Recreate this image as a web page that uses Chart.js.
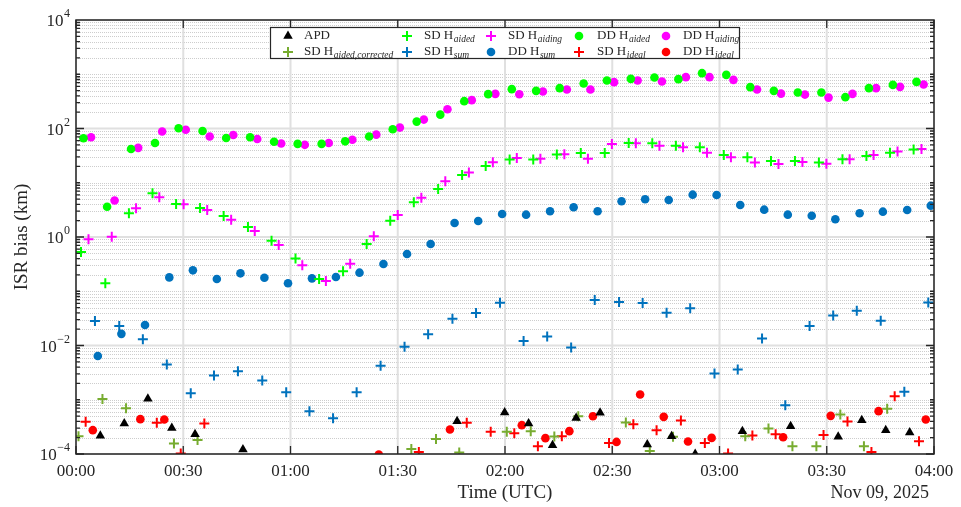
<!DOCTYPE html>
<html><head><meta charset="utf-8">
<script src="https://cdn.jsdelivr.net/npm/chart.js@4.4.1/dist/chart.umd.min.js"></script>
<style>html,body{margin:0;padding:0;background:#fff;}#wrap{width:961px;height:507px;}</style>
</head><body><div id="wrap"><canvas id="c" width="961" height="507"></canvas></div>
<script>
// ---- data (x = minutes after 00:00 UTC, y = ISR bias in km) ----
const apdT = [6.8, 13.5, 20.1, 26.8, 33.3, 46.7, 106.6, 119.9, 126.6, 133.3, 139.9, 146.6, 159.8, 166.6, 173.2, 186.4, 199.9, 213.2, 219.8, 226.5, 233.2];
const apdV = [2.16e-4, 3.65e-4, 1.04e-3, 3.03e-4, 2.32e-4, 1.21e-4, 4.03e-4, 5.83e-4, 3.65e-4, 1.45e-4, 4.63e-4, 5.73e-4, 1.5e-4, 2.13e-4, 1.0e-4, 2.64e-4, 3.26e-4, 2.07e-4, 4.2e-4, 2.75e-4, 2.49e-4];

const sdCorrT = [0.7, 7.4, 14.0, 27.4, 34.0, 93.8, 100.7, 107.2, 120.5, 127.2, 133.8, 140.5, 153.8, 160.5, 167.0, 187.2, 193.7, 200.4, 207.1, 213.8, 220.4, 226.9];
const sdCorrV = [2.13e-4, 1.03e-3, 7.0e-4, 1.56e-4, 1.82e-4, 1.23e-4, 1.9e-4, 1.07e-4, 2.56e-4, 2.64e-4, 2.1e-4, 4.98e-4, 3.81e-4, 1.13e-4, 2.07e-4, 2.13e-4, 2.95e-4, 1.39e-4, 1.39e-4, 5.36e-4, 1.39e-4, 6.8e-4];

const sdAidedT = [1.4, 8.2, 14.8, 21.4, 28.0, 34.7, 41.3, 48.1, 54.7, 61.4, 68.0, 74.7, 81.3, 87.9, 94.5, 101.3, 108.0, 114.6, 121.3, 127.9, 134.5, 141.2, 147.9, 154.6, 161.2, 167.8, 174.5, 181.2, 187.8, 194.4, 201.1, 207.8, 214.4, 221.1, 227.7, 234.3];
const sdAidedV = [0.53, 0.14, 2.74, 6.4, 4.06, 3.43, 2.44, 1.53, 0.855, 0.40, 0.168, 0.233, 0.74, 2.0, 4.37, 7.7, 13.9, 20.4, 26.7, 26.7, 33, 35.5, 35.5, 54, 53.5, 48, 45, 32.6, 29.5, 25.2, 25.2, 23.5, 27.1, 31.2, 35.9, 40.8];

const sdSumT = [5.3, 12.1, 18.7, 25.4, 32.1, 38.6, 45.3, 52.1, 58.8, 65.3, 71.9, 78.5, 85.2, 91.9, 98.5, 105.3, 111.9, 118.6, 125.2, 131.8, 138.5, 145.1, 151.9, 158.5, 165.2, 171.8, 178.6, 185.1, 191.9, 198.4, 205.2, 211.8, 218.4, 225.1, 231.7, 238.4];
const sdSumV = [0.0282, 0.0228, 0.0131, 0.00448, 0.00132, 0.00281, 0.00337, 0.00227, 0.00138, 0.000616, 0.000458, 0.00138, 0.00422, 0.00946, 0.0162, 0.0311, 0.0396, 0.0614, 0.0121, 0.0147, 0.00922, 0.0689, 0.0632, 0.0606, 0.0401, 0.0484, 0.00306, 0.00363, 0.0135, 0.000795, 0.0228, 0.0359, 0.0437, 0.0286, 0.0014, 0.0623];

const sdAidingT = [3.5, 10.0, 16.8, 23.3, 30.1, 36.7, 43.4, 50.0, 56.7, 63.3, 69.9, 76.7, 83.3, 90.0, 96.6, 103.3, 109.9, 116.6, 123.3, 129.9, 136.6, 143.2, 149.9, 156.6, 163.2, 169.8, 176.5, 183.2, 189.9, 196.5, 203.2, 209.9, 216.4, 223.1, 229.8, 236.5];
const sdAidingV = [0.91, 1.01, 3.4, 5.4, 4.0, 3.15, 2.08, 1.29, 0.71, 0.30, 0.154, 0.32, 1.03, 2.55, 5.3, 10.7, 15.4, 23.9, 28.7, 27.8, 33.6, 27.8, 52, 53.5, 48.3, 45.2, 35.9, 29.5, 23.5, 22.2, 24.2, 22.5, 27.1, 32.6, 37.5, 42];

const ddSumT = [6.1, 12.7, 19.3, 26.1, 32.7, 39.4, 46.0, 52.7, 59.3, 66.0, 72.7, 79.3, 86.0, 92.6, 99.2, 105.9, 112.5, 119.2, 125.9, 132.6, 139.2, 145.9, 152.6, 159.2, 165.8, 172.5, 179.2, 185.8, 192.5, 199.1, 205.8, 212.4, 219.2, 225.7, 232.5, 239.1];
const ddSumV = [0.0064, 0.0164, 0.0238, 0.18, 0.243, 0.168, 0.214, 0.177, 0.14, 0.173, 0.183, 0.22, 0.318, 0.486, 0.743, 1.81, 1.97, 2.66, 2.58, 2.98, 3.53, 2.98, 4.56, 4.96, 4.81, 6.03, 5.96, 3.89, 3.19, 2.58, 2.47, 2.12, 2.74, 2.93, 3.15, 3.78];

const ddAidedT = [2.1, 8.7, 15.4, 22.1, 28.7, 35.4, 42.0, 48.7, 55.4, 62.0, 68.7, 75.3, 82.0, 88.6, 95.3, 101.9, 108.6, 115.3, 121.9, 128.7, 135.3, 142.0, 148.5, 155.2, 161.8, 168.5, 175.1, 181.9, 188.6, 195.2, 201.9, 208.5, 215.2, 221.8, 228.5, 235.1];
const ddAidedV = [66, 3.6, 42, 54, 101, 90, 67, 69, 57, 52, 52, 58, 71, 97, 134, 180, 319, 430, 531, 494, 554, 674, 765, 823, 869, 813, 1047, 975, 578, 494, 460, 460, 378, 554, 637, 724];

const sdIdealT = [2.7, 22.6, 29.3, 35.9, 95.9, 109.3, 116.0, 122.6, 129.2, 135.9, 149.1, 155.9, 162.4, 169.2, 175.9, 182.4, 189.2, 195.7, 209.1, 215.8, 222.5, 229.0, 235.8];
const sdIdealV = [3.91e-4, 3.75e-4, 1.02e-4, 3.65e-4, 1.09e-4, 3.75e-4, 2.56e-4, 2.42e-4, 1.39e-4, 2.13e-4, 1.6e-4, 3.55e-4, 2.75e-4, 4.15e-4, 1.6e-4, 1.02e-4, 2.19e-4, 2.32e-4, 2.25e-4, 3.98e-4, 1.09e-4, 1.16e-3, 1.72e-4];

const ddAidingT = [4.2, 10.8, 17.4, 24.1, 30.7, 37.4, 44.0, 50.7, 57.4, 64.0, 70.7, 77.3, 84.0, 90.6, 97.3, 103.9, 110.7, 117.3, 124.0, 130.6, 137.3, 143.9, 150.5, 157.1, 163.9, 170.6, 177.2, 183.9, 190.5, 197.2, 203.9, 210.5, 217.2, 223.8, 230.5, 237.1];
const ddAidingV = [69, 4.7, 44, 88, 95, 71, 76, 64, 53, 50, 54, 62, 77, 104, 146, 227, 333, 435, 429, 480, 522, 522, 715, 765, 733, 884, 884, 788, 522, 440, 422, 371, 435, 554, 586, 646];

const ddIdealT = [4.7, 18.0, 24.7, 84.7, 104.6, 124.7, 131.3, 138.0, 144.6, 151.2, 157.8, 164.4, 171.2, 177.8, 197.8, 211.1, 224.5, 237.7];
const ddIdealV = [2.75e-4, 4.39e-4, 4.33e-4, 9.8e-5, 2.83e-4, 3.4e-4, 1.96e-4, 2.64e-4, 4.98e-4, 1.67e-4, 1.25e-3, 4.84e-4, 1.7e-4, 1.98e-4, 2.04e-4, 5.05e-4, 6.16e-4, 4.33e-4];

const xTickMinutes = [0, 30, 60, 90, 120, 150, 180, 210, 240];
const xTickLabels = ['00:00', '00:30', '01:00', '01:30', '02:00', '02:30', '03:00', '03:30', '04:00'];
const yTickExps = [-4, -2, 0, 2, 4];
const xTitle = 'Time (UTC)';
const yTitle = 'ISR bias (km)';
const dateLabel = 'Nov 09, 2025';

// legend order (column-major, 5 columns x 2 rows)
const series = [
  {base: 'APD', sub: '', t: apdT, v: apdV, style: 'triangle', color: '#000000'},
  {base: 'SD H', sub: 'aided,corrected', t: sdCorrT, v: sdCorrV, style: 'cross', color: '#77ac30'},
  {base: 'SD H', sub: 'aided', t: sdAidedT, v: sdAidedV, style: 'cross', color: '#00ff00'},
  {base: 'SD H', sub: 'sum', t: sdSumT, v: sdSumV, style: 'cross', color: '#0072bd'},
  {base: 'SD H', sub: 'aiding', t: sdAidingT, v: sdAidingV, style: 'cross', color: '#ff00ff'},
  {base: 'DD H', sub: 'sum', t: ddSumT, v: ddSumV, style: 'circle', color: '#0072bd'},
  {base: 'DD H', sub: 'aided', t: ddAidedT, v: ddAidedV, style: 'circle', color: '#00ff00'},
  {base: 'SD H', sub: 'ideal', t: sdIdealT, v: sdIdealV, style: 'cross', color: '#ff0000'},
  {base: 'DD H', sub: 'aiding', t: ddAidingT, v: ddAidingV, style: 'circle', color: '#ff00ff'},
  {base: 'DD H', sub: 'ideal', t: ddIdealT, v: ddIdealV, style: 'circle', color: '#ff0000'}
];

const AX = '#262626';
const SERIF = '"Liberation Serif", "Times New Roman", serif';

function styleOpts(s) {
  if (s.style === 'cross') return {pointStyle: 'cross', pointRadius: 5, pointBorderWidth: 2, pointBorderColor: s.color, pointBackgroundColor: s.color};
  if (s.style === 'triangle') return {pointStyle: 'triangle', pointRadius: 5.5, pointBorderWidth: 0, pointBorderColor: s.color, pointBackgroundColor: s.color};
  return {pointStyle: 'circle', pointRadius: 4.3, pointBorderWidth: 0, pointBorderColor: s.color, pointBackgroundColor: s.color};
}

const datasets = series.map(s => Object.assign({
  label: s.base + s.sub,
  data: s.t.map((x, i) => ({x: x, y: s.v[i]})),
  showLine: false
}, styleOpts(s)));

function drawMarker(ctx, style, color, x, y) {
  ctx.save();
  ctx.fillStyle = color; ctx.strokeStyle = color;
  if (style === 'cross') {
    ctx.lineWidth = 2; ctx.beginPath();
    ctx.moveTo(x - 5, y); ctx.lineTo(x + 5, y); ctx.moveTo(x, y - 5); ctx.lineTo(x, y + 5); ctx.stroke();
  } else if (style === 'triangle') {
    const r = 5.5; ctx.beginPath();
    ctx.moveTo(x, y - r); ctx.lineTo(x + r * 0.866, y + r * 0.5); ctx.lineTo(x - r * 0.866, y + r * 0.5); ctx.closePath(); ctx.fill();
  } else {
    ctx.beginPath(); ctx.arc(x, y, 4.3, 0, Math.PI * 2); ctx.fill();
  }
  ctx.restore();
}

const framePlugin = {
  id: 'frame',
  beforeDatasetsDraw(chart) {
    const ctx = chart.ctx, ca = chart.chartArea, xs = chart.scales.x, ys = chart.scales.y;
    ctx.save();
    // minor dotted y grid
    ctx.strokeStyle = '#cdcdcd'; ctx.lineWidth = 1; ctx.setLineDash([1, 1]);
    for (let e = -4; e < 4; e++) {
      for (let m = 1; m <= 9; m++) {
        if (m === 1 && e % 2 === 0) continue;
        const y = Math.round(ys.getPixelForValue(m * Math.pow(10, e))) + 0.5;
        ctx.beginPath(); ctx.moveTo(ca.left, y); ctx.lineTo(ca.right, y); ctx.stroke();
      }
    }
    ctx.setLineDash([]);
    ctx.strokeStyle = '#e0e0e0'; ctx.lineWidth = 2;
    yTickExps.forEach(e => {
      const y = ys.getPixelForValue(Math.pow(10, e));
      ctx.beginPath(); ctx.moveTo(ca.left, y); ctx.lineTo(ca.right, y); ctx.stroke();
    });
    xTickMinutes.forEach(t => {
      const x = xs.getPixelForValue(t);
      ctx.beginPath(); ctx.moveTo(x, ca.top); ctx.lineTo(x, ca.bottom); ctx.stroke();
    });
    ctx.restore();
  },
  afterDatasetsDraw(chart) {
    const ctx = chart.ctx, ca = chart.chartArea, xs = chart.scales.x, ys = chart.scales.y;
    ctx.save();
    ctx.strokeStyle = AX; ctx.lineWidth = 1.3;
    for (let e = -4; e < 4; e++) {
      for (let m = 1; m <= 9; m++) {
        const major = (m === 1 && e % 2 === 0);
        const len = major ? 8 : 4;
        const y = ys.getPixelForValue(m * Math.pow(10, e));
        ctx.beginPath();
        ctx.moveTo(ca.left, y); ctx.lineTo(ca.left + len, y);
        ctx.moveTo(ca.right, y); ctx.lineTo(ca.right - len, y);
        ctx.stroke();
      }
    }
    xTickMinutes.forEach(t => {
      const x = xs.getPixelForValue(t);
      ctx.beginPath();
      ctx.moveTo(x, ca.bottom); ctx.lineTo(x, ca.bottom - 8);
      ctx.moveTo(x, ca.top); ctx.lineTo(x, ca.top + 8);
      ctx.stroke();
    });
    ctx.lineWidth = 1.5;
    ctx.strokeRect(ca.left, ca.top, ca.right - ca.left, ca.bottom - ca.top);

    // tick labels
    ctx.fillStyle = AX;
    ctx.font = '17px ' + SERIF;
    ctx.textAlign = 'center'; ctx.textBaseline = 'alphabetic';
    xTickMinutes.forEach((t, i) => ctx.fillText(xTickLabels[i], xs.getPixelForValue(t), 476));
    yTickExps.forEach(e => {
      const y = ys.getPixelForValue(Math.pow(10, e));
      const expStr = (e < 0 ? '\u2212' : '') + Math.abs(e);
      ctx.font = '12px ' + SERIF; ctx.textAlign = 'right';
      const right = ca.left - 6;
      const w = ctx.measureText(expStr).width;
      ctx.fillText(expStr, right, y - 3);
      ctx.font = '17px ' + SERIF;
      ctx.fillText('10', right - w - 0.5, y + 6);
    });
    // axis titles
    ctx.font = '19px ' + SERIF; ctx.textAlign = 'center';
    ctx.fillText(xTitle, (ca.left + ca.right) / 2, 498);
    ctx.font = '18px ' + SERIF; ctx.textAlign = 'right';
    ctx.fillText(dateLabel, ca.right - 5, 498);
    ctx.save();
    ctx.translate(27, (ca.top + ca.bottom) / 2);
    ctx.rotate(-Math.PI / 2);
    ctx.font = '19px ' + SERIF; ctx.textAlign = 'center';
    ctx.fillText(yTitle, 0, 0);
    ctx.restore();

    // legend
    const L = 270, T = 27, R = 739, B = 58;
    ctx.fillStyle = '#ffffff'; ctx.fillRect(L, T, R - L, B - T);
    ctx.strokeStyle = AX; ctx.lineWidth = 1.2; ctx.strokeRect(L + 0.5, T + 0.5, R - L, B - T);
    const mX = [288, 407, 491, 579, 666], tX = [304, 424, 508, 597, 683], rY = [36, 52];
    series.forEach((s, i) => {
      const col = Math.floor(i / 2), row = i % 2;
      drawMarker(ctx, s.style, s.color, mX[col], rY[row]);
      ctx.fillStyle = AX; ctx.textAlign = 'left'; ctx.textBaseline = 'middle';
      ctx.font = '13px ' + SERIF;
      ctx.fillText(s.base, tX[col], rY[row]);
      if (s.sub) {
        const w = ctx.measureText(s.base).width;
        ctx.font = 'italic 9.5px ' + SERIF;
        ctx.fillText(s.sub, tX[col] + w + 0.5, rY[row] + 3);
      }
    });
    ctx.restore();
  }
};

new Chart(document.getElementById('c'), {
  type: 'scatter',
  data: {datasets: datasets},
  options: {
    responsive: false, animation: false, devicePixelRatio: 1, events: [],
    layout: {padding: {left: 76, right: 27, top: 20, bottom: 53}},
    plugins: {legend: {display: false}, tooltip: {enabled: false}},
    scales: {
      x: {type: 'linear', min: 0, max: 240, display: false},
      y: {type: 'logarithmic', min: 1e-4, max: 1e4, display: false}
    }
  },
  plugins: [framePlugin]
});
</script></body></html>
